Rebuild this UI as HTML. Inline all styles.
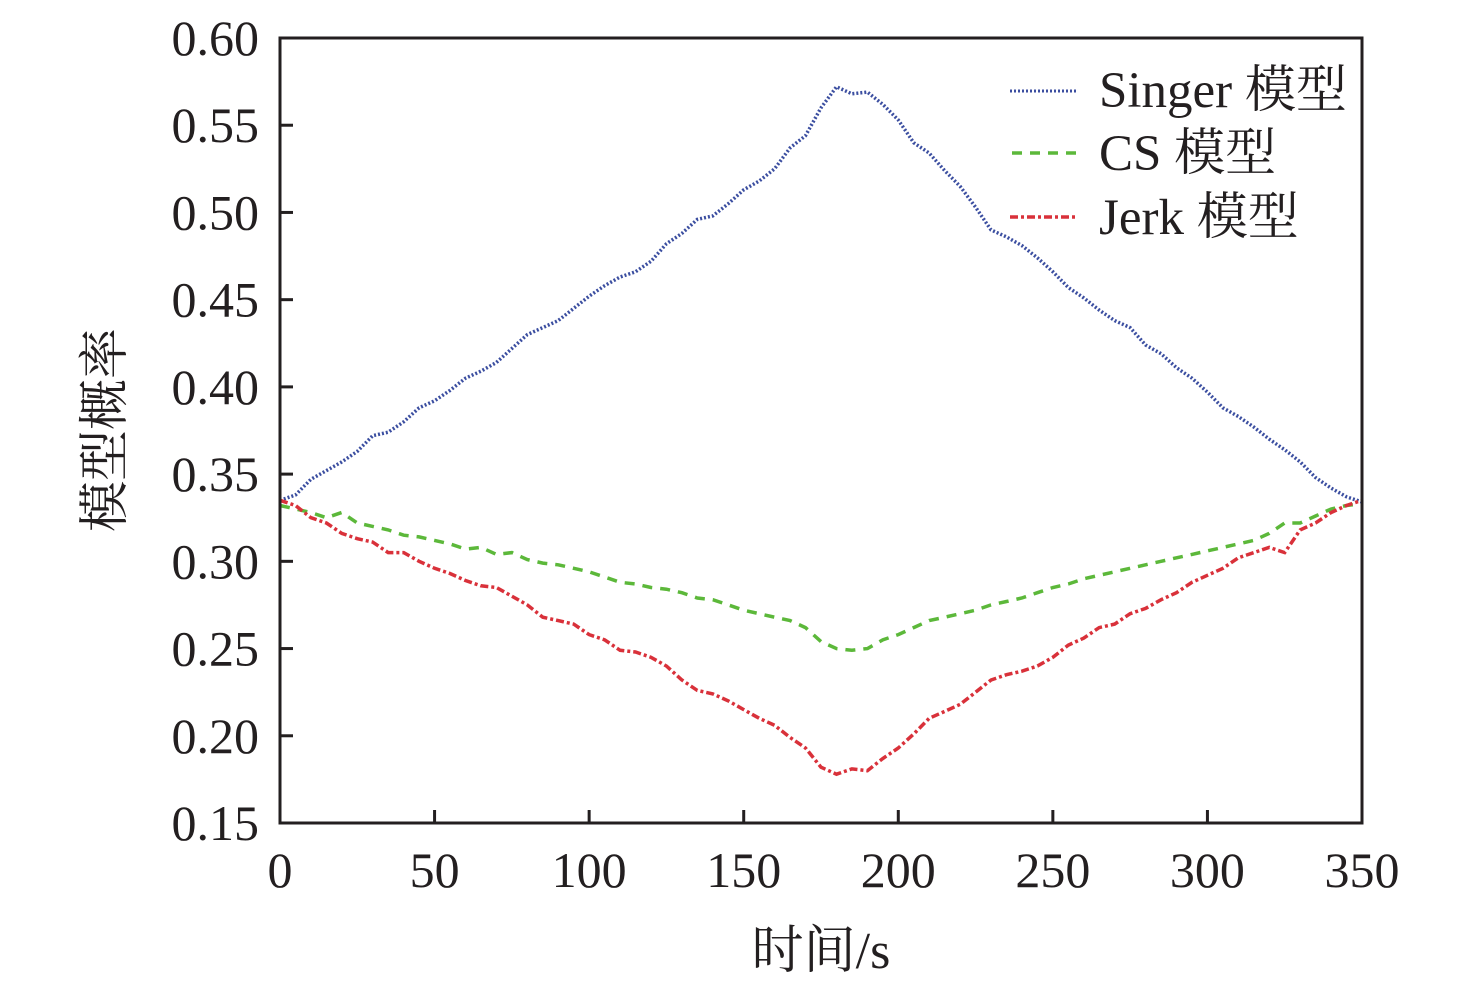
<!DOCTYPE html>
<html><head><meta charset="utf-8"><style>
body{margin:0;background:#fff;}
svg text{font-family:"Liberation Serif","Noto Serif CJK SC",serif;fill:#231f20;}
</style></head><body>
<svg id="chart" width="1476" height="994" xmlns="http://www.w3.org/2000/svg">
<g id="axes"></g>
<g id="series"></g>
<rect x="280" y="38" width="1082" height="785" fill="none" stroke="#231f20" stroke-width="3"/>
<g>
 <line x1="1010" y1="91" x2="1078" y2="91" stroke="#3b4ea0" stroke-width="3" stroke-dasharray="2,2"/>
 <text x="1099" y="107" font-size="51">Singer 模型</text>
 <line x1="1012" y1="153" x2="1078" y2="153" stroke="#5cb83a" stroke-width="3.5" stroke-dasharray="10,8"/>
 <text x="1099" y="170" font-size="51">CS 模型</text>
 <line x1="1010" y1="217" x2="1078" y2="217" stroke="#d9313a" stroke-width="3.5" stroke-dasharray="8,3,3,3"/>
 <text x="1099" y="234" font-size="51">Jerk 模型</text>
</g>
<text x="821" y="968" font-size="52" text-anchor="middle">时间/s</text>
<text transform="translate(122,430) rotate(-90)" font-size="51" text-anchor="middle">模型概率</text>
</svg>
<script>
const times=[0,5,10,15,20,25,30,35,40,45,50,55,60,65,70,75,80,85,90,95,100,105,110,115,120,125,130,135,140,145,150,155,160,165,170,175,180,185,190,195,200,205,210,215,220,225,230,235,240,245,250,255,260,265,270,275,280,285,290,295,300,305,310,315,320,325,330,335,340,345,350];
const singer=[0.335,0.338,0.347,0.352,0.357,0.363,0.372,0.374,0.380,0.388,0.392,0.398,0.405,0.409,0.414,0.422,0.430,0.434,0.438,0.445,0.452,0.458,0.463,0.466,0.472,0.482,0.488,0.496,0.498,0.505,0.513,0.518,0.525,0.537,0.544,0.560,0.572,0.568,0.569,0.562,0.553,0.540,0.534,0.524,0.515,0.503,0.490,0.486,0.481,0.474,0.466,0.457,0.451,0.444,0.438,0.434,0.424,0.419,0.411,0.405,0.397,0.388,0.383,0.377,0.370,0.364,0.357,0.348,0.342,0.337,0.334];
const cs=[0.332,0.330,0.328,0.325,0.328,0.322,0.320,0.318,0.315,0.314,0.312,0.310,0.307,0.308,0.304,0.305,0.301,0.299,0.298,0.296,0.294,0.291,0.288,0.287,0.285,0.284,0.282,0.279,0.278,0.275,0.272,0.270,0.268,0.266,0.262,0.254,0.250,0.249,0.250,0.255,0.258,0.262,0.266,0.268,0.270,0.272,0.275,0.277,0.279,0.282,0.285,0.287,0.290,0.292,0.294,0.296,0.298,0.300,0.302,0.304,0.306,0.308,0.310,0.312,0.316,0.322,0.322,0.326,0.330,0.332,0.333];
const jerk=[0.335,0.332,0.325,0.322,0.316,0.313,0.311,0.305,0.305,0.300,0.296,0.293,0.289,0.286,0.285,0.280,0.275,0.268,0.266,0.264,0.258,0.255,0.249,0.248,0.245,0.240,0.232,0.226,0.224,0.220,0.215,0.210,0.206,0.199,0.193,0.182,0.178,0.181,0.180,0.187,0.193,0.201,0.210,0.214,0.218,0.225,0.232,0.235,0.237,0.240,0.245,0.252,0.256,0.262,0.264,0.270,0.273,0.278,0.282,0.288,0.292,0.296,0.302,0.305,0.308,0.305,0.318,0.322,0.328,0.332,0.335];
const xTicks=[0,50,100,150,200,250,300,350];
const yTicks=[0.15,0.20,0.25,0.30,0.35,0.40,0.45,0.50,0.55,0.60];
const yLabels=["0.15","0.20","0.25","0.30","0.35","0.40","0.45","0.50","0.55","0.60"];
const NS="http://www.w3.org/2000/svg";
function xs(v){return 280+(v-0)/350*1082;}
function ys(v){return 823-(v-0.15)/0.45*785;}
const axes=document.getElementById('axes');
xTicks.forEach(t=>{
 const l=document.createElementNS(NS,'line');
 
 
 l.setAttribute('x1',xs(t));l.setAttribute('x2',xs(t));l.setAttribute('y1',823);l.setAttribute('y2',810);
 l.setAttribute('stroke','#231f20');l.setAttribute('stroke-width','3');axes.appendChild(l);
 const tx=document.createElementNS(NS,'text');
 
 
 tx.setAttribute('x',xs(t));tx.setAttribute('y',887);tx.setAttribute('font-size','50');tx.setAttribute('text-anchor','middle');
 tx.textContent=String(t);axes.appendChild(tx);
});
yTicks.forEach((t,i)=>{
 const l=document.createElementNS(NS,'line');
 
 
 l.setAttribute('x1',280);l.setAttribute('x2',293);l.setAttribute('y1',ys(t));l.setAttribute('y2',ys(t));
 l.setAttribute('stroke','#231f20');l.setAttribute('stroke-width','3');axes.appendChild(l);
 const tx=document.createElementNS(NS,'text');
 
 
 tx.setAttribute('x',259);tx.setAttribute('y',ys(t)+17);tx.setAttribute('font-size','50');tx.setAttribute('text-anchor','end');
 tx.textContent=yLabels[i];axes.appendChild(tx);
});
const series=document.getElementById('series');
function drawLine(vals,color,dash,name){
 const p=document.createElementNS(NS,'path');
 
 
 p.setAttribute('d',vals.map((v,i)=>(i?'L':'M')+xs(times[i]).toFixed(1)+','+ys(v).toFixed(1)).join(''));
 p.setAttribute('fill','none');p.setAttribute('stroke',color);p.setAttribute('stroke-width','3.5');p.setAttribute('stroke-dasharray',dash);
 series.appendChild(p);
}
drawLine(singer,'#3b4ea0','2,2','singer-line');
drawLine(cs,'#5cb83a','10,8','cs-line');
drawLine(jerk,'#d9313a','8,3,3,3','jerk-line');
</script>
</body></html>
